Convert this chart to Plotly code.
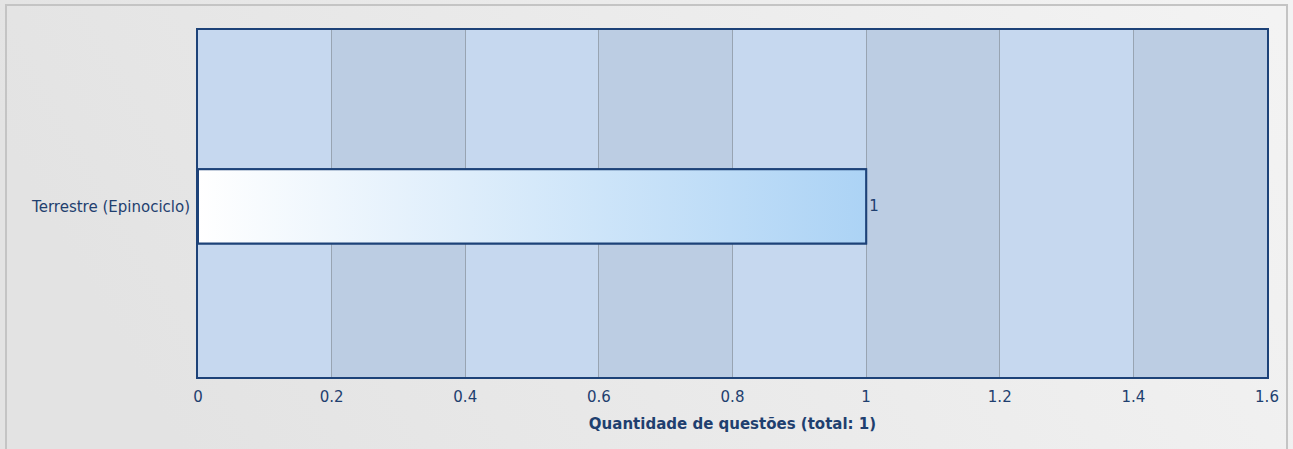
import base64
import plotly.graph_objects as go

categories = ["Terrestre (Epinociclo)"]
values = [1]
x_ticks = [0, 0.2, 0.4, 0.6, 0.8, 1.0, 1.2, 1.4, 1.6]
x_title = "Quantidade de questões (total: 1)"

TEXT = "#1f3f6f"
BORDER = "#1d4278"
BAR_W = 0.214
FS = 15

fig = go.Figure()

# bar (border + value label)
fig.add_trace(go.Bar(
    x=values, y=list(range(len(categories))), orientation="h", width=BAR_W,
    marker=dict(color="rgba(0,0,0,0)", line=dict(color=BORDER, width=2)),
    text=[str(v) for v in values], textposition="outside",
    textfont=dict(color=TEXT, size=FS), cliponaxis=False, hoverinfo="skip",
))

# gradient fill of each bar
for i, v in enumerate(values):
    fig.add_trace(go.Scatter(
        x=[0, v, v, 0, 0],
        y=[i - BAR_W / 2, i - BAR_W / 2, i + BAR_W / 2, i + BAR_W / 2, i - BAR_W / 2],
        mode="lines", fill="toself",
        fillgradient=dict(type="horizontal", colorscale=[[0, "#ffffff"], [1, "#acd3f5"]]),
        line=dict(color=BORDER, width=2), hoverinfo="skip", showlegend=False,
    ))

# alternating vertical bands
shapes = []
for k in range(len(x_ticks) - 1):
    shapes.append(dict(
        type="rect", xref="x", yref="paper", x0=x_ticks[k], x1=x_ticks[k + 1], y0=0, y1=1,
        fillcolor="#c6d8ef" if k % 2 == 0 else "#bccde3", line=dict(width=0), layer="below",
    ))
# outer frame
shapes.append(dict(type="rect", xref="paper", yref="paper",
                   x0=-192 / 1069, x1=1 + 20 / 1069, y0=-0.3, y1=1 + 25 / 347,
                   line=dict(color="#c4c4c4", width=2), fillcolor="rgba(0,0,0,0)", layer="below"))

svg = ('<svg xmlns="http://www.w3.org/2000/svg" width="100" height="100" preserveAspectRatio="none">'
       '<defs><linearGradient id="g" x1="0" y1="0.3" x2="1" y2="0.1">'
       '<stop offset="0" stop-color="#e3e3e3"/><stop offset="1" stop-color="#f3f3f3"/>'
       '</linearGradient></defs><rect width="100" height="100" fill="url(#g)"/></svg>')
src = "data:image/svg+xml;base64," + base64.b64encode(svg.encode()).decode()

fig.update_layout(
    width=1293, height=449,
    margin=dict(l=198, r=26, t=30, b=72),
    paper_bgcolor="#ebebeb", plot_bgcolor="rgba(0,0,0,0)",
    font=dict(family="DejaVu Sans", color=TEXT, size=FS),
    showlegend=False, shapes=shapes,
    images=[dict(source=src, xref="paper", yref="paper", x=-198 / 1069, y=1 + 30 / 347,
                 sizex=1293 / 1069, sizey=449 / 347, sizing="stretch", layer="below",
                 xanchor="left", yanchor="top")],
    xaxis=dict(range=[0, 1.6], tickvals=x_ticks, showgrid=True, gridcolor="#98a4b2", gridwidth=1,
               zeroline=False, showline=True, mirror=True, linecolor=BORDER, linewidth=2,
               ticks="", ticklabelstandoff=5, tickfont=dict(size=FS, color=TEXT),
               title=dict(text="<b>" + x_title + "</b>", font=dict(size=FS, color=TEXT), standoff=13)),
    yaxis=dict(range=[-0.492, 0.508], tickvals=list(range(len(categories))), ticktext=categories,
               showgrid=False, zeroline=False, showline=True, mirror=True, linecolor=BORDER,
               linewidth=2, ticks="", ticklabelstandoff=3, tickfont=dict(size=FS, color=TEXT)),
)

fig.write_html("out.html", config={"displayModeBar": False},
               post_script="document.body.style.margin='0';")
